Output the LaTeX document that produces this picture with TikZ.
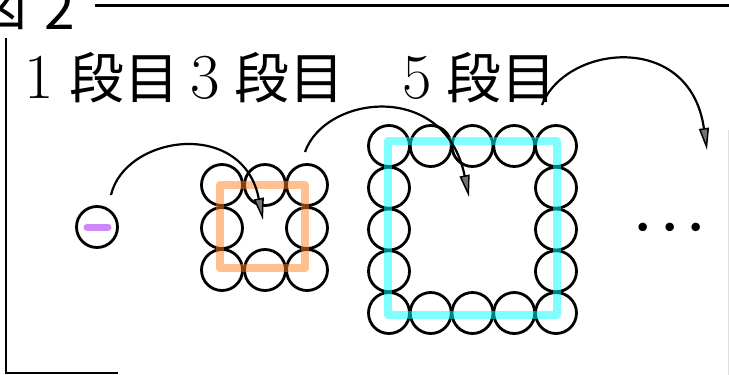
\documentclass[tikz,border=0pt]{standalone}
\usepackage{fontspec}
\newfontfamily\jp{Noto Sans CJK JP}
\usetikzlibrary{arrows.meta}
\definecolor{ringorange}{RGB}{255,128,32}
\definecolor{ringcyan}{RGB}{0,255,255}
\definecolor{dashpurple}{RGB}{205,135,250}
\begin{document}
\begin{tikzpicture}[x=1pt,y=-1pt,
  ball/.style={circle,draw,line width=2.8pt,minimum size=41pt,inner sep=0pt},
  hop/.style={line width=2.2pt,-{Triangle[length=22pt,width=10pt,line width=1.5pt,fill=black!55]}},
  jlbl/.style={inner sep=0pt,anchor=base,font=\jp\fontsize{55}{55}\selectfont},
  num/.style={inner sep=0pt,anchor=base,font=\fontsize{64}{64}\selectfont},
  frame/.style={line width=2.6pt},
  hl/.style={line width=8pt,line cap=round,line join=round,opacity=0.5}]
\useasboundingbox (0,0) rectangle (729,375);
% title and frame
\node[jlbl] (tz) at (0,25) {図};
\node[jlbl] (tn) at (60,29) {2};
\draw[line width=3pt] (95,5) -- (729,5);
\draw[frame] (6,38) |- (118,373);
\draw[gray!25,line width=0.8pt] (728,130) -- (728,375);
% labels
\node[num] (n1) at (39,98) {1};
\node[jlbl] (l1) at (124.5,98) {段目};
\node[num] (n3) at (205,98) {3};
\node[jlbl] (l3) at (289.5,98) {段目};
\node[num] (n5) at (417,98) {5};
\node[jlbl] (l5) at (501.5,98) {段目};
% stage 1
\node[ball] (c1) at (97,227) {};
\draw[dashpurple,line width=7pt,line cap=round] (c1.center) ++(-10,0) -- ++(21,0);
% stage 3
\node[ball] (b00) at (222,185) {};
\node[ball] (b10) at (265,185) {};
\node[ball] (b20) at (307,185) {};
\node[ball] (b01) at (222,228) {};
\node[ball] (b21) at (307,228) {};
\node[ball] (b02) at (222,270) {};
\node[ball] (b12) at (265,270) {};
\node[ball] (b22) at (307,270) {};
\draw[hl,ringorange] (220,185) rectangle (305,268);
% stage 5
\foreach \i in {0,...,4}{
  \node[ball] (at\i) at ({389+41.75*\i},146) {};
  \node[ball] (ab\i) at ({389+41.75*\i},313) {};
}
\foreach \j in {1,2,3}{
  \node[ball] (al\j) at (389,{146+41.75*\j}) {};
  \node[ball] (ar\j) at (556,{146+41.75*\j}) {};
}
\draw[hl,ringcyan] (388,141) rectangle (557,315);
% dots
\node[inner sep=0pt,font=\fontsize{38}{38}\selectfont] (dots) at (670,230)
  {\textbullet\hspace{-1pt}\textbullet\hspace{-1pt}\textbullet};
% arrows
\coordinate (s1) at (111,195);
\coordinate (t1) at (263,220);
\coordinate (s2) at (305,152);
\coordinate (t2) at (469,197);
\coordinate (s3) at (542,105);
\coordinate (t3) at (707,150);
\draw[hop] (s1) .. controls (125,135) and (243,118) .. (t1);
\draw[hop] (s2) .. controls (325,95) and (445,80) .. (t2);
\draw[hop] (s3) .. controls (565,45) and (690,30) .. (t3);
\end{tikzpicture}
\end{document}
